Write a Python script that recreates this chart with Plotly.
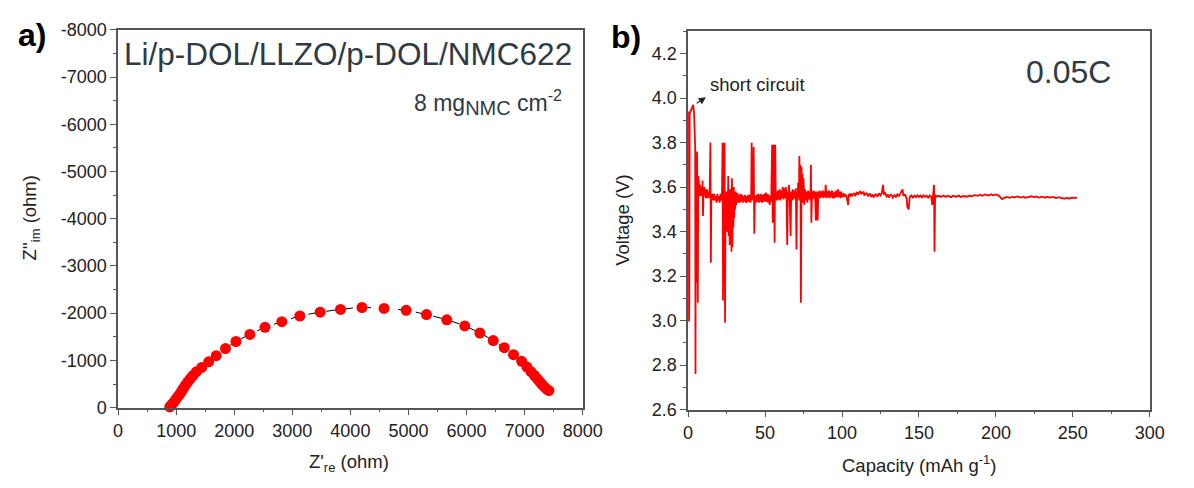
import plotly.graph_objects as go

# ---------------- Panel a: Nyquist plot ----------------
z_re = [800, 830, 860, 890, 920, 950, 980, 1010, 1040, 1070, 1100, 1130, 1165, 1200,
        1240, 1290, 1350, 1440, 1560, 1690, 1850, 2030, 2270, 2530, 2820, 3130, 3480,
        3830, 4200, 4580, 4960, 5310, 5660, 5970, 6230, 6460, 6650, 6810, 6950, 7040,
        7110, 7170, 7220, 7260, 7300, 7340, 7380, 7420]
z_im = [120, 70, 25, -15, -55, -100, -150, -200, -250, -300, -360, -420, -480, -540,
        -610, -680, -760, -850, -970, -1100, -1250, -1400, -1550, -1700, -1820, -1940, -2020,
        -2080, -2120, -2100, -2060, -1970, -1860, -1730, -1580, -1420, -1270, -1120, -980, -860,
        -760, -680, -610, -550, -490, -440, -390, -360]

a_xticks = [0, 1000, 2000, 3000, 4000, 5000, 6000, 7000, 8000]
a_xtext = ["0", "1000", "2000", "3000", "4000", "5000", "6000", "7000", "8000"]
a_yticks = [0, -1000, -2000, -3000, -4000, -5000, -6000, -7000, -8000]
a_ytext = ["0", "-1000", "-2000", "-3000", "-4000", "-5000", "-6000", "-7000", "-8000"]

# ---------------- Panel b: voltage vs capacity, (capacity mAh/g, voltage V) ----------------
seg_start = [(0.0, 3.00), (0.1, 3.94), (0.3, 3.00), (0.6, 3.00), (0.8, 3.08), (1.0, 3.93),
             (1.5, 3.94), (2.5, 3.96), (3.3, 3.97), (3.9, 3.93), (4.3, 3.85), (4.6, 3.78),
             (4.8, 2.76), (5.0, 3.74), (5.3, 3.70), (5.5, 3.17), (5.8, 3.76), (6.0, 3.62),
             (6.3, 3.08), (6.6, 3.65), (6.8, 3.58), (7.0, 3.62), (7.2, 3.57), (7.4, 3.60),
             (7.6, 3.56), (7.8, 3.61), (8.0, 3.57), (8.3, 3.60), (8.6, 3.56), (8.9, 3.59),
             (9.2, 3.57), (9.4, 3.63), (9.7, 3.47), (10.0, 3.59), (10.3, 3.56), (10.6, 3.60),
             (10.9, 3.56), (11.2, 3.59), (11.5, 3.55), (11.8, 3.58), (12.1, 3.56), (12.4, 3.59),
             (12.7, 3.55), (13.0, 3.58), (13.3, 3.55), (13.6, 3.58), (14.0, 3.56), (14.5, 3.80),
             (14.8, 3.26), (15.1, 3.57), (15.5, 3.54), (16.0, 3.57), (16.5, 3.54), (17.0, 3.57),
             (17.5, 3.54), (18.0, 3.56), (18.5, 3.53), (19.0, 3.57), (19.5, 3.54), (20.0, 3.56),
             (20.5, 3.53), (21.0, 3.57), (21.5, 3.54), (22.0, 3.56), (22.4, 3.80), (22.7, 3.09),
             (23.0, 3.80), (23.3, 3.56), (23.7, 3.80), (24.0, 2.99), (24.3, 3.56), (24.6, 3.45),
             (24.9, 3.58), (25.2, 3.40), (25.5, 3.57), (25.8, 3.46), (26.1, 3.65), (26.4, 3.38),
             (26.7, 3.58), (27.0, 3.34), (27.3, 3.59), (27.6, 3.36), (27.9, 3.57), (28.2, 3.31),
             (28.5, 3.64), (28.8, 3.33), (29.1, 3.56), (29.4, 3.42), (29.7, 3.60), (30.0, 3.46),
             (30.3, 3.57), (30.6, 3.50), (30.9, 3.58), (31.2, 3.52), (31.5, 3.57)]
seg_mid1 = [(32.0, 3.57), (32.5, 3.53), (33.0, 3.565), (33.5, 3.53), (34.0, 3.57), (34.5, 3.535),
            (35.0, 3.565), (35.5, 3.53), (36.0, 3.56), (36.5, 3.535), (37.0, 3.565), (37.5, 3.53),
            (38.0, 3.56), (38.5, 3.53), (39.0, 3.565), (39.5, 3.535), (40.0, 3.565), (40.5, 3.53),
            (41.0, 3.56), (41.3, 3.80), (41.6, 3.54), (42.0, 3.565), (42.3, 3.54), (42.6, 3.78),
            (43.0, 3.39), (43.4, 3.56), (44.0, 3.53), (44.5, 3.565), (45.0, 3.535), (45.5, 3.57),
            (46.0, 3.53), (46.5, 3.565), (47.0, 3.535), (47.5, 3.57), (48.0, 3.53), (48.5, 3.565),
            (49.0, 3.535), (49.5, 3.57), (50.0, 3.535), (50.5, 3.575), (51.0, 3.535), (51.5, 3.57),
            (52.0, 3.53), (52.5, 3.565), (53.0, 3.52), (53.5, 3.56), (54.0, 3.535)]
seg_mid2 = [(54.6, 3.79), (55.0, 3.44), (55.4, 3.56), (55.8, 3.79), (56.2, 3.35), (56.6, 3.79),
            (57.0, 3.54), (57.5, 3.58), (58.0, 3.54), (58.5, 3.585), (59.0, 3.545), (59.5, 3.59),
            (60.0, 3.54), (60.5, 3.585), (61.0, 3.55), (61.5, 3.60), (62.0, 3.545), (62.5, 3.595),
            (63.0, 3.55), (63.5, 3.60), (64.0, 3.545), (64.4, 3.34), (64.8, 3.58), (65.2, 3.545),
            (65.5, 3.61), (66.0, 3.54), (66.6, 3.38), (67.0, 3.58), (67.5, 3.54), (68.0, 3.59),
            (68.5, 3.545), (69.0, 3.585), (69.5, 3.55), (70.0, 3.595), (70.4, 3.32), (70.8, 3.58),
            (71.2, 3.54), (71.5, 3.62), (72.0, 3.55), (72.3, 3.74), (72.7, 3.54), (73.0, 3.70),
            (73.3, 3.08), (73.7, 3.69), (74.0, 3.54), (74.3, 3.66), (74.7, 3.53), (75.0, 3.64),
            (75.5, 3.52), (76.0, 3.59), (76.5, 3.54), (77.0, 3.58), (77.5, 3.53), (78.0, 3.585),
            (78.5, 3.545), (79.0, 3.58), (79.5, 3.54), (79.8, 3.70), (80.1, 3.44), (80.5, 3.58),
            (81.0, 3.545), (81.5, 3.585), (82.0, 3.55), (82.5, 3.58), (83.0, 3.45), (83.5, 3.58),
            (84.0, 3.55), (84.2, 3.45), (84.6, 3.58), (85.0, 3.55), (85.5, 3.585), (86.0, 3.55),
            (86.5, 3.58), (87.0, 3.555), (87.5, 3.585), (88.0, 3.55), (88.5, 3.58), (89.0, 3.555),
            (89.4, 3.61), (90.0, 3.55), (90.5, 3.58), (91.0, 3.555), (91.5, 3.585), (92.0, 3.55),
            (92.5, 3.58), (93.0, 3.555), (93.5, 3.585), (94.0, 3.55), (94.5, 3.575), (95.0, 3.55),
            (95.5, 3.58), (96.0, 3.555), (96.5, 3.585), (97.0, 3.555), (97.5, 3.59), (98.0, 3.555),
            (98.5, 3.58), (99.0, 3.55), (99.5, 3.58), (100.0, 3.555)]
seg_late = [(101, 3.572), (101.5, 3.556), (102, 3.568), (103, 3.558), (104, 3.52), (104.5, 3.57),
            (105, 3.557), (106, 3.572), (106.5, 3.558), (107, 3.566), (108, 3.573), (108.5, 3.56),
            (109, 3.568), (110, 3.578), (110.5, 3.566), (111, 3.575), (112, 3.582), (112.5, 3.568),
            (113, 3.574), (114, 3.578), (114.5, 3.562), (115, 3.57), (116, 3.572), (117, 3.558),
            (117.5, 3.566), (118, 3.572), (119, 3.558), (120, 3.566), (120.5, 3.553), (121, 3.562),
            (122, 3.568), (123, 3.557), (124, 3.572), (125, 3.562), (126, 3.576), (126.6, 3.61),
            (127.3, 3.565), (128, 3.576), (129, 3.558), (130, 3.566), (130.5, 3.553), (131, 3.562),
            (132, 3.566), (133, 3.553), (134, 3.564), (135, 3.556), (136, 3.568), (137, 3.56),
            (138, 3.572), (139.3, 3.59), (140, 3.56), (141, 3.568), (142, 3.548), (142.5, 3.51),
            (143.3, 3.50), (144, 3.556), (145, 3.563), (146, 3.553), (147, 3.562), (148, 3.555),
            (149, 3.563), (150, 3.556), (151, 3.562), (152, 3.554), (153, 3.563), (154, 3.556),
            (155, 3.561), (156, 3.553), (157, 3.562), (158, 3.556), (158.6, 3.52), (159.2, 3.565),
            (159.8, 3.61), (160.1, 3.31), (160.5, 3.565)]
seg_end = [(161.5, 3.557), (163, 3.561), (164, 3.556), (166, 3.562), (167, 3.557), (169, 3.56),
           (171, 3.555), (172, 3.561), (174, 3.557), (176, 3.562), (177, 3.556), (179, 3.56),
           (181, 3.557), (183, 3.562), (184, 3.558), (186, 3.564), (188, 3.561), (190, 3.566),
           (191, 3.561), (193, 3.567), (195, 3.562), (197, 3.568), (198, 3.563), (200, 3.567),
           (202, 3.561), (203, 3.552), (204, 3.546), (205.5, 3.552), (207, 3.556), (209, 3.552),
           (211, 3.557), (212, 3.553), (214, 3.558), (216, 3.553), (218, 3.557), (219, 3.552),
           (221, 3.556), (223, 3.559), (225, 3.554), (226, 3.558), (228, 3.553), (230, 3.557),
           (232, 3.552), (233, 3.557), (235, 3.553), (237, 3.556), (239, 3.551), (241, 3.555),
           (243, 3.55), (245, 3.548), (246, 3.551), (248, 3.549), (249.5, 3.554), (251, 3.551),
           (252.7, 3.553)]

b_points = seg_start + seg_mid1 + seg_mid2 + seg_late + seg_end
capacity = [p[0] for p in b_points]
voltage = [p[1] for p in b_points]

FONT = "Liberation Sans, Arial, sans-serif"
AXC = "#555555"
TXT = "#222222"
DARK = "#2f3a44"
W, H = 1194, 488

fig = go.Figure()

fig.add_trace(go.Scatter(x=z_re, y=z_im, mode="lines",
                         line=dict(color="black", width=1, dash="dash", shape="spline"),
                         xaxis="x", yaxis="y", showlegend=False, hoverinfo="skip"))
fig.add_trace(go.Scatter(x=z_re, y=z_im, mode="markers",
                         marker=dict(color="#ff0000", size=11),
                         xaxis="x", yaxis="y", showlegend=False, cliponaxis=False))
fig.add_trace(go.Scatter(x=capacity, y=voltage, mode="lines",
                         line=dict(color="#ff0000", width=1.8),
                         xaxis="x2", yaxis="y2", showlegend=False))

axis_common = dict(showline=True, linecolor=AXC, linewidth=1.5, mirror=True,
                   showgrid=False, zeroline=False, ticks="outside", ticklen=6,
                   tickwidth=1.3, tickcolor=AXC,
                   tickfont=dict(family=FONT, size=18, color=TXT))
minor_common = dict(ticks="outside", ticklen=3, tickwidth=1.2, tickcolor=AXC)

xa = dict(axis_common, domain=[115.5 / W, 590 / W], range=[0, 8000],
          tickmode="array", tickvals=a_xticks, ticktext=a_xtext,
          minor=dict(minor_common, dtick=500), anchor="y")
ya = dict(axis_common, domain=[1 - 414.6 / H, 1 - 20.7 / H], range=[0, -8000],
          tickmode="array", tickvals=a_yticks, ticktext=a_ytext,
          minor=dict(minor_common, dtick=500), anchor="x")
xb = dict(axis_common, domain=[697.7 / W, 1169.3 / W], range=[0, 300],
          tick0=0, dtick=50, minor=dict(minor_common, dtick=25), anchor="y2")
yb = dict(axis_common, domain=[1 - 416.7 / H, 1 - 22.3 / H], range=[2.6, 4.3],
          tick0=2.6, dtick=0.2, tickformat=".1f",
          minor=dict(minor_common, dtick=0.1), anchor="x2")

annotations = []

def txt(text, xp, yp, size, color=TXT, xanchor="center", yanchor="middle", angle=0):
    annotations.append(dict(text=text, x=xp / W, y=1 - yp / H, xref="paper", yref="paper",
                            xanchor=xanchor, yanchor=yanchor, showarrow=False,
                            textangle=angle,
                            font=dict(family=FONT, size=size, color=color)))

txt("<b>a)</b>", 28, 26, 32, color="black")
txt("<b>b)</b>", 634, 28, 32, color="black")
txt("Li/p-DOL/LLZO/p-DOL/NMC622", 120, 46, 31.5, color=DARK, xanchor="left")
txt("8 mg<sub><span style='font-size:20px'>NMC</span></sub> cm<sup>-2</sup>",
    571, 96, 23, color=DARK, xanchor="right")
txt("0.05C", 1086, 65, 32, color=DARK)
txt("short circuit", 769, 78, 18.5)
txt("Z'<sub>re</sub> (ohm)", 351.5, 472, 18.5)
txt("Capacity (mAh g<sup>-1</sup>)", 933.5, 473, 18.5)
txt("Z''<sub>im</sub> (ohm)", 27, 217, 18.5, angle=-90)
txt("Voltage (V)", 630, 219, 18.5, angle=-90)

# arrow for "short circuit"
annotations.append(dict(x=11.6, y=4.004, ax=4.6, ay=3.972, xref="x2", yref="y2",
                        axref="x2", ayref="y2", text="", showarrow=True,
                        arrowhead=2, arrowsize=1.2, arrowwidth=1.2, arrowcolor="#222222"))

fig.update_layout(width=W, height=H, autosize=False,
                  margin=dict(l=0, r=0, t=0, b=0),
                  plot_bgcolor="white", paper_bgcolor="white",
                  xaxis=xa, yaxis=ya, xaxis2=xb, yaxis2=yb,
                  annotations=annotations, showlegend=False)

fig.write_html("out.html")
